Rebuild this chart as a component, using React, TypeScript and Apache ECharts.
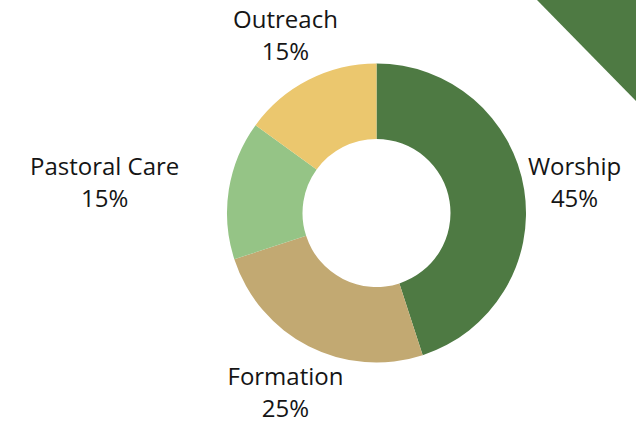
import React, { useEffect, useRef } from "react";
import * as echarts from "echarts";

const categories = ["Worship", "Formation", "Pastoral Care", "Outreach"];
const values = [45, 25, 15, 15];
const colors = ["#4e7a43", "#c2a972", "#95c486", "#ebc76e"];

const W = 636;
const H = 421;
const CX = 376.5;
const CY = 213;
const R_OUT = 149.5;
const R_IN = 74;
const GAP = 51;

export default function App() {
  const ref = useRef<HTMLDivElement>(null);

  useEffect(() => {
    if (!ref.current) return;
    const chart = echarts.init(ref.current, null, { renderer: "svg" });
    const total = values.reduce((a, b) => a + b, 0);

    const fallbackAnchor = (i: number) => {
      let cum = 0;
      for (let k = 0; k < i; k++) cum += values[k];
      const th = ((cum + values[i] / 2) / total) * Math.PI * 2;
      const rr = R_OUT + GAP;
      return [CX + rr * Math.sin(th), CY - rr * Math.cos(th)];
    };

    chart.setOption({
      animation: false,
      backgroundColor: "#ffffff",
      graphic: [
        {
          type: "polygon",
          shape: { points: [[537, 0], [W, 0], [W, 101]] },
          style: { fill: "#4e7a43" },
          z: 0,
        },
      ],
      series: [
        {
          type: "pie",
          center: [CX, CY],
          radius: [R_IN, R_OUT],
          startAngle: 90,
          clockwise: true,
          avoidLabelOverlap: false,
          itemStyle: { borderWidth: 0 },
          emphasis: { disabled: true },
          label: {
            show: true,
            position: "outside",
            formatter: "{b}\n{c}%",
            fontFamily: "Open Sans",
            fontSize: 24,
            lineHeight: 32,
            color: "#151515",
          },
          labelLine: {
            show: true,
            length: GAP,
            length2: 0,
            lineStyle: { opacity: 0 },
          },
          labelLayout: (p: any) => {
            const pts = p.labelLinePoints;
            let a: number[];
            if (pts && pts[1]) a = [pts[1][0], pts[1][1]];
            else a = fallbackAnchor(p.dataIndex);
            const w = p.labelRect.width;
            let x = a[0];
            const dy = a[1] - CY;
            const half = Math.abs(dy) < R_OUT ? Math.sqrt(R_OUT * R_OUT - dy * dy) : 0;
            if (half > 0) {
              if (x < CX && x + w / 2 > CX - half) x = CX - half - GAP - w / 2;
              if (x > CX && x - w / 2 < CX + half) x = CX + half + GAP + w / 2;
            }
            return { x, y: a[1], align: "center", verticalAlign: "middle" };
          },
          data: categories.map((name, i) => ({
            name,
            value: values[i],
            itemStyle: { color: colors[i] },
          })),
        },
      ],
    });

    return () => chart.dispose();
  }, []);

  return (
    <div
      ref={ref}
      style={{ position: "fixed", left: 0, top: 0, width: W, height: H }}
    />
  );
}
